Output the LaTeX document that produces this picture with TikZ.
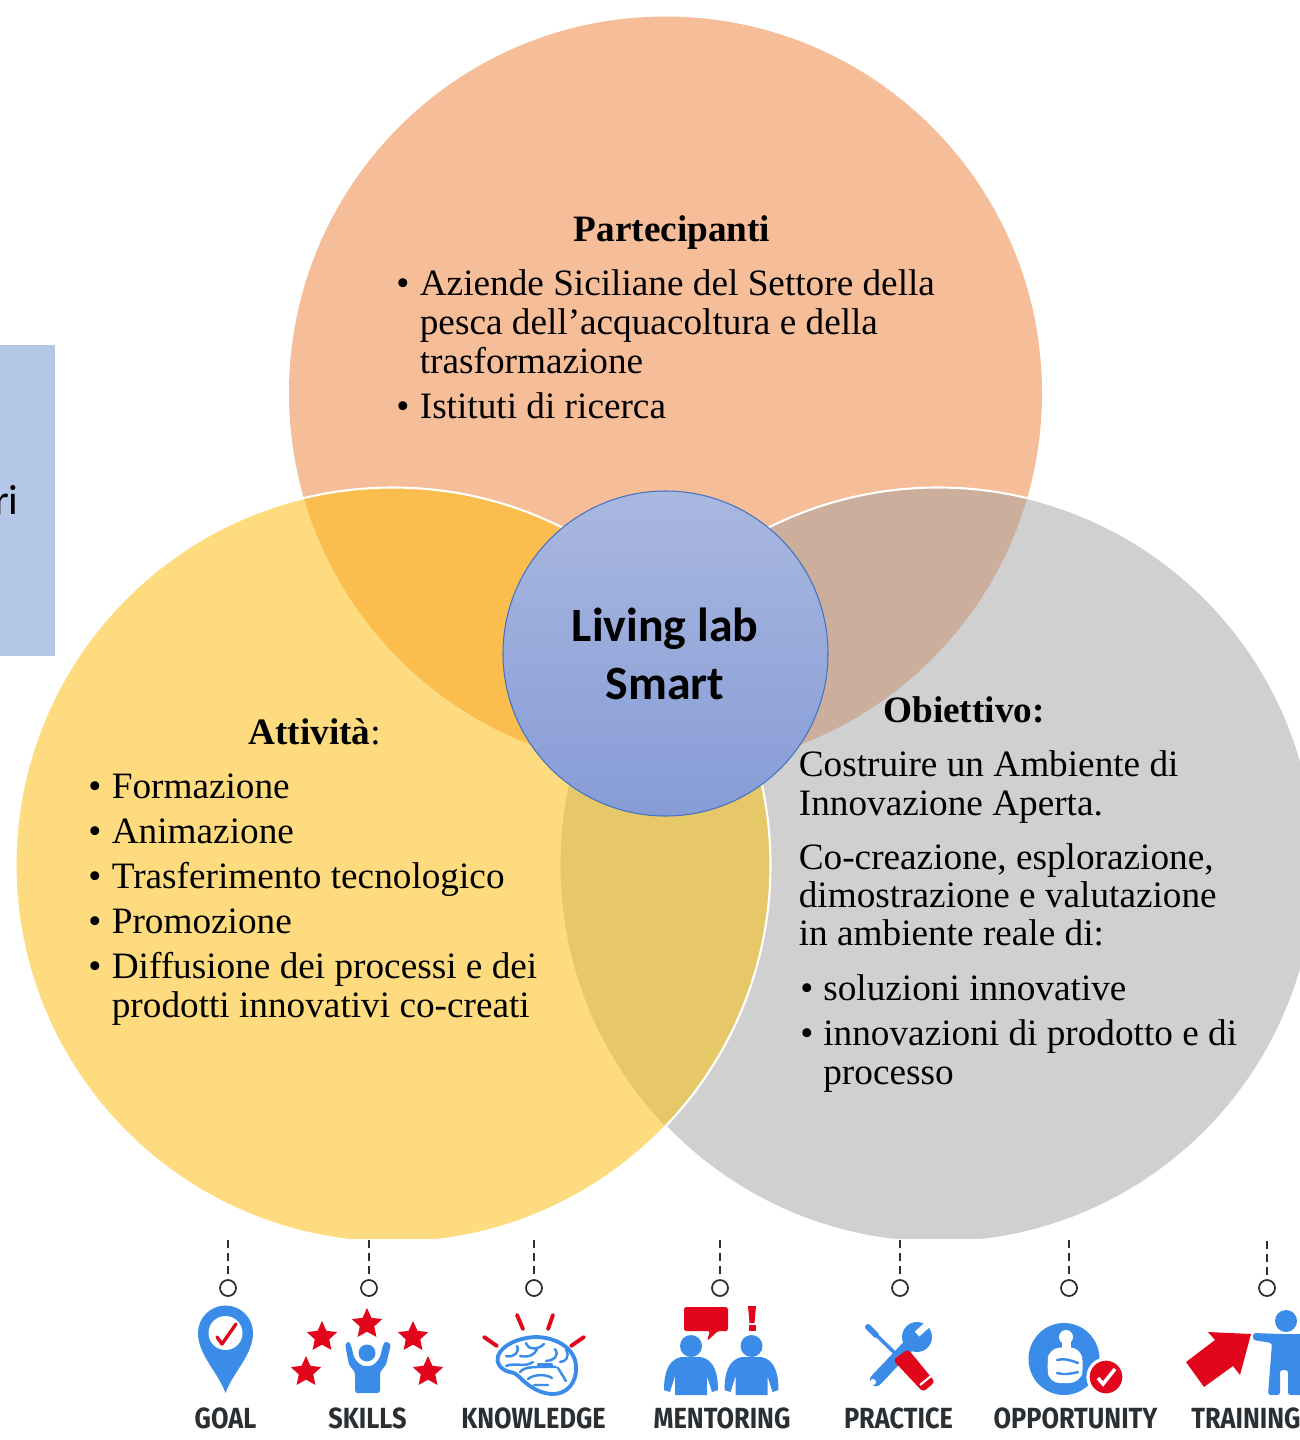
\documentclass[tikz,border=0pt]{standalone}
\usepackage{fontspec}
\setmainfont{Liberation Serif}
\newfontfamily\calibrifont{Carlito}
\newfontfamily\labelfont[FakeStretch=0.87]{Fira Sans}
\usetikzlibrary{shapes.geometric}
\definecolor{cOrange}{HTML}{F5BD98}
\definecolor{cYellow}{HTML}{FDDB7E}
\definecolor{cGrey}{HTML}{D0D0D0}
\definecolor{cOY}{HTML}{FBBE4E}
\definecolor{cOG}{HTML}{CBAE9B}
\definecolor{cYG}{HTML}{E6C868}
\definecolor{cBox}{HTML}{B4C7E7}
\definecolor{cTop}{HTML}{A9B8DF}
\definecolor{cBottom}{HTML}{879CD7}
\definecolor{cCoreEdge}{HTML}{4472C4}
\definecolor{cIconBlue}{HTML}{3B8CE8}
\definecolor{cIconRed}{HTML}{E1061C}
\definecolor{cIconText}{HTML}{2A2F33}
\newcommand{\cO}{(665.5,393) circle (376.5)}
\newcommand{\cY}{(393,865) circle (377.5)}
\newcommand{\cG}{(938,865) circle (377.5)}
\tikzset{
  bodytext/.style={anchor=base west,inner sep=0pt,font=\fontsize{21.2pt}{25pt}\selectfont},
  headtext/.style={anchor=base west,inner sep=0pt,font=\fontsize{21.2pt}{25pt}\selectfont\bfseries},
  centertext/.style={anchor=base,inner sep=0pt,font=\fontsize{27.2pt}{32pt}\selectfont\calibrifont\bfseries},
  icontext/.style={anchor=base,inner sep=0pt,text=cIconText,font=\fontsize{16.6pt}{20pt}\selectfont\labelfont\bfseries},
  ring/.style={circle,draw=cIconText,line width=1pt,minimum size=16*0.02cm,inner sep=0pt},
  hanger/.style={draw=cIconText,line width=1.1pt,dash pattern=on 4.5pt off 3pt},
  redline/.style={draw=cIconRed,line width=2.2pt,line cap=round},
  brainline/.style={draw=cIconBlue,line width=2.2pt,line cap=round,line join=round},
  redstar/.style={star,star points=5,star point ratio=2.1,fill=cIconRed,minimum size=32*0.02cm,inner sep=0pt},
}
\begin{document}
\begin{tikzpicture}[x=0.02cm,y=-0.02cm]
\useasboundingbox (0,0) rectangle (1300,1440);
% left box
\fill[cBox] (0,345) rectangle (55,656);
\node[anchor=base east,inner sep=0pt,font=\fontsize{24pt}{28pt}\selectfont\calibrifont] (ritext) at (19,514) {ri};
% venn
\begin{scope}
\clip (0,0) rectangle (1300,1238);
\fill[cOrange] \cO;
\fill[cGrey] \cG;
\begin{scope}\clip \cO; \fill[cOG] \cG; \end{scope}
\draw[white,line width=1.2pt] \cG;
\fill[cYellow] \cY;
\begin{scope}\clip \cY; \fill[cOY] \cO; \end{scope}
\begin{scope}\clip \cY; \fill[cYG] \cG; \end{scope}
\draw[white,line width=1.2pt] \cY;
\end{scope}
% centre
\node[circle,draw=cCoreEdge,line width=0.6pt,top color=cTop,bottom color=cBottom,minimum size=325*0.02cm,inner sep=0pt] (core) at (665.5,653.5) {};
\node[centertext] (livinga) at (665,641) {Living lab};
\node[centertext] (livingb) at (665,699) {Smart};
% Partecipanti
\node[headtext,anchor=base] (ph) at (672,241) {Partecipanti};
\node[bodytext] (pb1) at (396,295) {•};
\node[bodytext] (p1) at (419.5,295) {Aziende Siciliane del Settore della};
\node[bodytext] (p2) at (419.5,334) {pesca dell’acquacoltura e della};
\node[bodytext] (p3) at (419.5,373) {trasformazione};
\node[bodytext] (pb2) at (396,418) {•};
\node[bodytext] (p4) at (419.5,418) {Istituti di ricerca};
% Attivita
\node[bodytext] (ah) at (248,744) {\textbf{Attività}:};
\node[bodytext] (ab1) at (88,798) {•};
\node[bodytext] (a1) at (111.5,798) {Formazione};
\node[bodytext] (ab2) at (88,843) {•};
\node[bodytext] (a2) at (111.5,843) {Animazione};
\node[bodytext] (ab3) at (88,888) {•};
\node[bodytext] (a3) at (111.5,888) {Trasferimento tecnologico};
\node[bodytext] (ab4) at (88,933) {•};
\node[bodytext] (a4) at (111.5,933) {Promozione};
\node[bodytext] (ab5) at (88,978) {•};
\node[bodytext] (a5) at (111.5,978) {Diffusione dei processi e dei};
\node[bodytext] (a6) at (111.5,1017) {prodotti innovativi co-creati};
% Obiettivo
\node[headtext] (oh) at (883,722) {Obiettivo:};
\node[bodytext] (o1) at (798.5,776) {Costruire un Ambiente di};
\node[bodytext] (o2) at (798.5,815) {Innovazione Aperta.};
\node[bodytext] (o3) at (798.5,869) {Co-creazione, esplorazione,};
\node[bodytext] (o4) at (798.5,907) {dimostrazione e valutazione};
\node[bodytext] (o5) at (798.5,945) {in ambiente reale di:};
\node[bodytext] (ob1) at (800,1000) {•};
\node[bodytext] (o6) at (823,1000) {soluzioni innovative};
\node[bodytext] (ob2) at (800,1045) {•};
\node[bodytext] (o7) at (823,1045) {innovazioni di prodotto e di};
\node[bodytext] (o8) at (823,1084) {processo};
% hangers
\foreach \n/\xx/\ys in {a/228/1240,b/369/1240,c/534/1240,d/720/1240,e/900/1240,f/1069/1240,g/1267/1241}{
  \coordinate (top\n) at (\xx,\ys);
  \node[ring] (ring\n) at (\xx,1288) {};
  \draw[hanger] (top\n) -- (ring\n);
}
% GOAL
\fill[cIconBlue] (225.5,1393) .. controls (218,1372) and (198,1355) .. (198,1333) arc[start angle=180,end angle=360,radius=27.5] .. controls (253,1355) and (233,1372) .. (225.5,1393) -- cycle;
\fill[white] (225.5,1333) circle (17);
\draw[draw=cIconRed,line width=1.9pt,line join=round,line cap=round] (217,1337) -- (222,1344) -- (236,1324);
% SKILLS
\foreach \xx/\yy in {367/1324,322/1337,413/1337,306/1372,428/1372}{\node[redstar] at (\xx,\yy) {};}
\fill[cIconBlue] (367,1353) circle (8.5);
\fill[cIconBlue,rounded corners=1.5pt] (345,1344) -- (349,1365) -- (355,1372) -- (355,1393) -- (380,1393) -- (380,1372) -- (386,1365) -- (391,1344) -- (385,1341) -- (382,1348) .. controls (380,1362) and (372,1366) .. (367,1366) .. controls (362,1366) and (354,1362) .. (352,1348) -- (349,1341) -- cycle;
% KNOWLEDGE
\draw[redline] (484,1337) -- (497,1346);
\draw[redline] (517,1315) -- (523,1329);
\draw[redline] (553,1315) -- (548,1329);
\draw[redline] (584,1337) -- (571,1346);
\draw[brainline] (510,1372) .. controls (500,1370) and (496,1362) .. (498,1356) .. controls (502,1345) and (518,1338) .. (535,1337) .. controls (556,1337) and (575,1348) .. (576,1366) .. controls (577,1384) and (566,1394) .. (553,1394) .. controls (542,1394) and (532,1388) .. (526,1383) .. controls (520,1379) and (518,1373) .. (510,1372) -- cycle;
\draw[brainline,line width=1.4pt] (506,1356) .. controls (514,1358) and (520,1352) .. (517,1346) (526,1343) .. controls (528,1350) and (538,1350) .. (544,1344) (506,1366) .. controls (515,1362) and (525,1368) .. (533,1362) (520,1356) .. controls (530,1358) and (535,1354) .. (537,1349) (555,1349) .. controls (560,1356) and (553,1361) .. (546,1361) (520,1372) .. controls (525,1366) and (535,1367) .. (556,1367) (528,1379) .. controls (534,1374) and (546,1374) .. (552,1378) (534,1385) -- (548,1385) (558,1368) -- (566,1381) (566,1350) .. controls (570,1356) and (566,1362) .. (560,1362);
\draw[brainline,line width=2.4pt] (539,1365) -- (551,1365);
% MENTORING
\fill[cIconRed,rounded corners=1pt] (684,1307) -- (728,1307) -- (728,1331) -- (718,1331) -- (707,1341) -- (710,1331) -- (684,1331) -- cycle;
\fill[cIconRed] (748,1306) -- (756,1306) -- (754.5,1323) -- (749.5,1323) -- cycle;
\fill[cIconRed] (748.5,1325) rectangle (755.5,1331);
\foreach \xx in {691,751.5}{
  \fill[cIconBlue] (\xx,1346) circle (11);
  \fill[cIconBlue] (\xx-27,1390) .. controls (\xx-27,1375) and (\xx-24,1360) .. (\xx-10,1357) -- (\xx+10,1357) .. controls (\xx+24,1360) and (\xx+27,1375) .. (\xx+27,1390) -- (\xx+21,1392) -- (\xx+16,1376) -- (\xx+16,1395) -- (\xx-16,1395) -- (\xx-16,1376) -- (\xx-21,1392) -- cycle;
}
% PRACTICE
\draw[cIconBlue,line width=2pt,line cap=round] (871,1330) -- (900,1358);
\draw[cIconBlue,line width=3.4pt,line cap=round] (868,1327) -- (876,1335);
\draw[cIconBlue,line width=7pt,line cap=round] (876,1380) -- (912,1342);
\fill[cIconBlue] (917,1337) circle (15);
\draw[white,line width=3.8pt] (917,1334) -- (935,1318);
\fill[white] (873,1382) circle (3);
\fill[cIconRed,rounded corners=2pt] (893,1360) -- (908,1349) -- (935,1382) -- (923,1392) -- cycle;
\draw[white,line width=1.2pt] (920,1385) -- (931,1376);
% OPPORTUNITY
\fill[cIconBlue] (1064,1359) ellipse (35.5 and 36);
\fill[white] (1066,1337) circle (7);
\fill[white] (1062,1340) rectangle (1071,1349);
\fill[white,rounded corners=6pt] (1047,1365) -- (1049,1348) -- (1080,1347) -- (1084,1366) -- (1080,1383) -- (1049,1383) -- cycle;
\draw[cIconBlue,line width=1.4pt,line cap=round] (1057,1360) .. controls (1064,1358) and (1070,1360) .. (1078,1363) (1057,1373) .. controls (1064,1375) and (1070,1374) .. (1078,1372);
\fill[cIconRed,draw=white,line width=1.8pt] (1106,1377) circle (18);
\draw[white,line width=2pt] (1098,1378) -- (1103,1384) -- (1115,1369);
% TRAINING
\fill[cIconRed] (1186,1362) -- (1215,1340) -- (1208,1332) -- (1251,1334) -- (1240,1375) -- (1233,1366) -- (1204,1387) -- cycle;
\fill[cIconBlue] (1286,1321) circle (11);
\fill[cIconBlue,rounded corners=1.5pt] (1253,1333) -- (1280,1334) -- (1312,1334) -- (1312,1395) -- (1288,1395) -- (1288,1370) -- (1280,1370) -- (1280,1395) -- (1268,1395) -- (1272,1343) -- (1253,1340) -- cycle;
% labels
\node[icontext] (goal) at (225.5,1428) {GOAL};
\node[icontext] (skills) at (367.5,1428) {SKILLS};
\node[icontext] (knowledge) at (533.5,1428) {KNOWLEDGE};
\node[icontext] (mentoring) at (722,1428) {MENTORING};
\node[icontext] (practice) at (898.5,1428) {PRACTICE};
\node[icontext] (opportunity) at (1075.5,1428) {OPPORTUNITY};
\node[icontext,anchor=base west] (training) at (1191,1428) {TRAINING};
\end{tikzpicture}
\end{document}
